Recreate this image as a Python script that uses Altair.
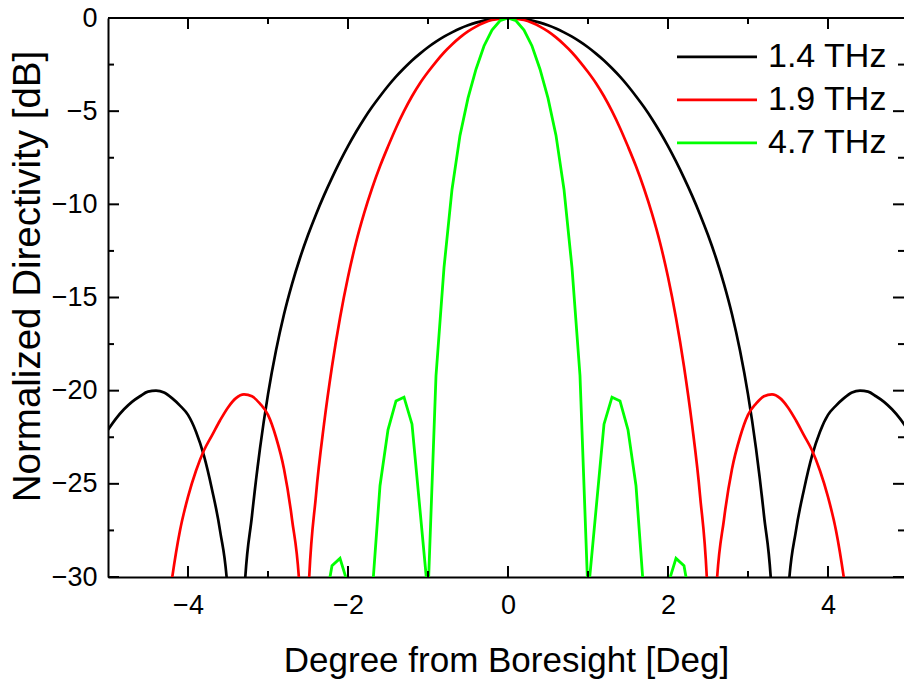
import altair as alt
import pandas as pd

series_names = ["1.4 THz", "1.9 THz", "4.7 THz"]
series_colors = ["#000000", "#ff0000", "#00ff00"]

# 1.4 THz (black)
black_x = [-5.0, -4.9, -4.8, -4.7, -4.6, -4.5, -4.4, -4.3, -4.2, -4.1, -4.0, -3.9, -3.8, -3.7, -3.6,
           -3.5, -3.4, -3.3, -3.2, -3.1, -3.0, -2.9, -2.8, -2.7, -2.6, -2.5, -2.4, -2.3, -2.2, -2.1,
           -2.0, -1.9, -1.8, -1.7, -1.6, -1.5, -1.4, -1.3, -1.2, -1.1, -1.0, -0.9, -0.8, -0.7, -0.6,
           -0.5, -0.4, -0.3, -0.2, -0.1, 0.0, 0.1, 0.2, 0.3, 0.4, 0.5, 0.6, 0.7, 0.8, 0.9, 1.0, 1.1,
           1.2, 1.3, 1.4, 1.5, 1.6, 1.7, 1.8, 1.9, 2.0, 2.1, 2.2, 2.3, 2.4, 2.5, 2.6, 2.7, 2.8, 2.9,
           3.0, 3.1, 3.2, 3.3, 3.4, 3.5, 3.6, 3.7, 3.8, 3.9, 4.0, 4.1, 4.2, 4.3, 4.4, 4.5, 4.6, 4.7,
           4.8, 4.9, 5.0]
black_y = [-22.1, -21.5, -21.0, -20.6, -20.3, -20.05, -20.0, -20.1, -20.4, -20.8, -21.3, -22.2, -23.5,
           -25.3, -27.5, -31.0, -45.0, -31.2, -26.7, -23.1, -20.2, -17.85, -15.9, -14.28, -12.88,
           -11.65, -10.54, -9.52, -8.58, -7.7, -6.88, -6.12, -5.42, -4.78, -4.2, -3.65, -3.15, -2.7,
           -2.28, -1.91, -1.57, -1.27, -1.0, -0.77, -0.56, -0.39, -0.25, -0.14, -0.06, -0.02, 0.0,
           -0.02, -0.06, -0.14, -0.25, -0.39, -0.56, -0.77, -1.0, -1.27, -1.57, -1.91, -2.28, -2.7,
           -3.15, -3.65, -4.2, -4.78, -5.42, -6.12, -6.88, -7.7, -8.58, -9.52, -10.54, -11.65,
           -12.88, -14.28, -15.9, -17.85, -20.2, -23.1, -26.7, -31.2, -45.0, -31.0, -27.5, -25.3,
           -23.5, -22.2, -21.3, -20.8, -20.4, -20.1, -20.0, -20.05, -20.3, -20.6, -21.0, -21.5, -22.1]

# 1.9 THz (red)
red_x = [-4.4, -4.3, -4.2, -4.1, -4.0, -3.9, -3.8, -3.7, -3.6, -3.5, -3.4, -3.3, -3.2, -3.1, -3.0,
         -2.9, -2.8, -2.7, -2.6, -2.55, -2.5, -2.4, -2.3, -2.2, -2.1, -2.0, -1.9, -1.8, -1.7, -1.6,
         -1.5, -1.4, -1.3, -1.2, -1.1, -1.0, -0.9, -0.8, -0.7, -0.6, -0.5, -0.4, -0.3, -0.2, -0.1,
         0.0, 0.1, 0.2, 0.3, 0.4, 0.5, 0.6, 0.7, 0.8, 0.9, 1.0, 1.1, 1.2, 1.3, 1.4, 1.5, 1.6, 1.7,
         1.8, 1.9, 2.0, 2.1, 2.2, 2.3, 2.4, 2.5, 2.55, 2.6, 2.7, 2.8, 2.9, 3.0, 3.1, 3.2, 3.3, 3.4,
         3.5, 3.6, 3.7, 3.8, 3.9, 4.0, 4.1, 4.2, 4.3, 4.4]
red_y = [-38.0, -33.5, -30.1, -27.5, -25.7, -24.3, -23.2, -22.4, -21.6, -20.9, -20.4, -20.2, -20.3,
         -20.7, -21.3, -22.5, -24.2, -26.9, -31.0, -45.0, -31.5, -25.6, -21.8, -18.7, -16.1, -13.9,
         -12.05, -10.5, -9.15, -7.96, -6.9, -5.9, -5.0, -4.2, -3.5, -2.9, -2.35, -1.85, -1.42, -1.04,
         -0.72, -0.46, -0.26, -0.11, -0.03, 0.0,
         -0.03, -0.11, -0.26, -0.46, -0.72, -1.04, -1.42, -1.85, -2.35, -2.9, -3.5, -4.2, -5.0,
         -5.9, -6.9, -7.96, -9.15, -10.5, -12.05, -13.9, -16.1, -18.7, -21.8, -25.6, -31.5, -45.0,
         -31.0, -26.9, -24.2, -22.5, -21.3, -20.7, -20.3, -20.2, -20.4, -20.9, -21.6, -22.4, -23.2,
         -24.3, -25.7, -27.5, -30.1, -33.5, -38.0]

# 4.7 THz (green)
green_x = [-2.5, -2.4, -2.3, -2.2, -2.1, -2.0, -1.9, -1.8, -1.7, -1.6, -1.5, -1.4, -1.3, -1.2, -1.1,
           -1.0, -0.9, -0.8, -0.7, -0.6, -0.5, -0.4, -0.3, -0.2, -0.1, 0.0, 0.1, 0.2, 0.3, 0.4, 0.5,
           0.6, 0.7, 0.8, 0.9, 1.0, 1.1, 1.2, 1.3, 1.4, 1.5, 1.6, 1.7, 1.8, 1.9, 2.0, 2.1, 2.2, 2.3,
           2.4, 2.5]
green_y = [-42.0, -36.0, -31.8, -29.4, -29.0, -30.4, -34.0, -40.0, -31.0, -25.1, -22.1, -20.55,
           -20.35, -21.8, -26.4, -31.0, -19.2, -13.4, -9.2, -6.3, -4.3, -2.75, -1.5, -0.65, -0.15,
           0.0,
           -0.15, -0.65, -1.5, -2.75, -4.3, -6.3, -9.2, -13.4, -19.2, -31.0, -26.4, -21.8, -20.35,
           -20.55, -22.1, -25.1, -31.0, -40.0, -34.0, -30.4, -29.0, -29.4, -31.8, -36.0, -42.0]

x_major = [-4, -2, 0, 2, 4]
x_minor = [-3, -1, 1, 3]
y_major = [0, -5, -10, -15, -20, -25, -30]
y_minor = [-2.5, -7.5, -12.5, -17.5, -22.5, -27.5]

assert len(black_x) == len(black_y)
assert len(red_x) == len(red_y)
assert len(green_x) == len(green_y)

W, H = 796, 559
FONT = "Liberation Sans"

smooth_df = pd.concat([
    pd.DataFrame({"x": black_x, "y": black_y, "s": series_names[0], "o": range(len(black_x))}),
    pd.DataFrame({"x": red_x, "y": red_y, "s": series_names[1], "o": range(len(red_x))}),
])
green_df = pd.DataFrame({"x": green_x, "y": green_y, "s": series_names[2], "o": range(len(green_x))})

xscale = alt.Scale(domain=[-5, 4.95], nice=False, zero=False)
yscale = alt.Scale(domain=[-30, 0], nice=False, zero=False)
cscale = alt.Scale(domain=series_names, range=series_colors)

legend = alt.Legend(
    orient="none", legendX=567.5, legendY=17.6, title=None,
    symbolType="stroke", symbolSize=6400, symbolStrokeWidth=2.8,
    clipHeight=42.7, rowPadding=0, padding=0,
    labelFont=FONT, labelFontSize=34, labelOffset=9.5, labelColor="#000000",
)

xaxis = alt.Axis(
    values=x_major, ticks=False, grid=False, domainColor="#000000", domainWidth=2,
    labelFont=FONT, labelFontSize=27, labelColor="#000000", labelPadding=15,
    title="Degree from Boresight [Deg]", titleFont=FONT, titleFontSize=35,
    titleFontWeight="normal", titleColor="#000000", titleY=66,
)
yaxis = alt.Axis(
    values=y_major, ticks=False, grid=False, domainColor="#000000", domainWidth=2,
    labelFont=FONT, labelFontSize=27, labelColor="#000000", labelPadding=11,
    title="Normalized Directivity [dB]", titleFont=FONT, titleFontSize=38.5,
    titleFontWeight="normal", titleColor="#000000", titleX=-61, titleY=258,
)

X = alt.X("x:Q", scale=xscale, axis=xaxis)
Y = alt.Y("y:Q", scale=yscale, axis=yaxis)

smooth = alt.Chart(smooth_df).mark_line(clip=True, strokeWidth=2.7, interpolate="monotone").encode(
    x=X, y=Y,
    color=alt.Color("s:N", scale=cscale, legend=legend),
    order="o:Q",
)
green = alt.Chart(green_df).mark_line(clip=True, strokeWidth=2.8).encode(
    x=X, y=Y,
    color=alt.Color("s:N", scale=cscale, legend=legend),
    order="o:Q",
)

def xticks(vals, length, top):
    df = pd.DataFrame({"x": vals})
    if top:
        enc = dict(y=alt.value(0), y2=alt.value(length))
    else:
        enc = dict(y=alt.value(H), y2=alt.value(H - length))
    return alt.Chart(df).mark_rule(color="#000000", strokeWidth=2).encode(x=X, **enc)

def yticks(vals, length, right):
    df = pd.DataFrame({"y": vals})
    if right:
        enc = dict(x=alt.value(W), x2=alt.value(W - length))
    else:
        enc = dict(x=alt.value(0), x2=alt.value(length))
    return alt.Chart(df).mark_rule(color="#000000", strokeWidth=2).encode(y=Y, **enc)

top_line = alt.Chart(pd.DataFrame({"k": [0]})).mark_rule(color="#000000", strokeWidth=2).encode(
    x=alt.value(0), x2=alt.value(W), y=alt.value(0))

tick_layers = [
    xticks(x_major, 11, False), xticks(x_minor, 6, False),
    xticks(x_major, 11, True), xticks(x_minor, 6, True),
    yticks(y_major, 11, False), yticks(y_minor, 6, False),
    yticks(y_major, 11, True), yticks(y_minor, 6, True),
]

chart = alt.layer(smooth, green, top_line, *tick_layers).properties(
    width=W, height=H,
    padding={"left": 108, "top": 18, "right": 0, "bottom": 102},
    autosize=alt.AutoSizeParams(type="none"),
    background="#ffffff",
).configure_view(stroke=None)

chart.save("out.html", embed_options={"renderer": "svg", "actions": False})
